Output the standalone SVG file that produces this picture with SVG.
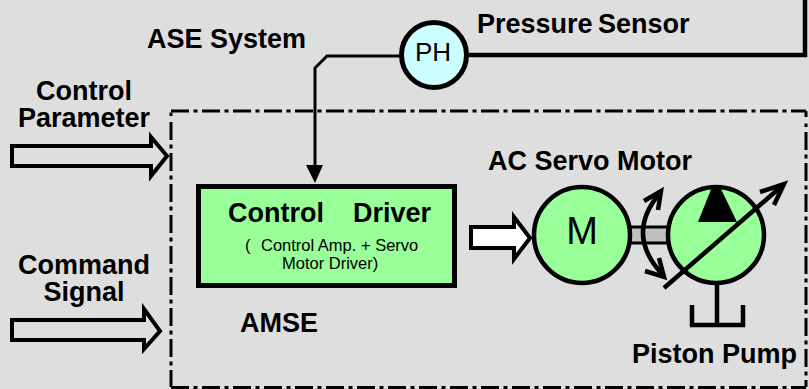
<svg xmlns="http://www.w3.org/2000/svg" width="809" height="389" viewBox="0 0 809 389">
<style>
text{font-family:"Liberation Sans",Arial,sans-serif;fill:#000}
.b{font-weight:bold;font-size:27px}
.s{font-size:16.5px}
.l{fill:none;stroke:#000;stroke-width:4.5}
.ar{fill:#dedede;stroke:#000;stroke-width:4}
.g{fill:#99ff99;stroke:#000;stroke-width:4.5}
.d{fill:none;stroke:#000;stroke-width:3;stroke-dasharray:18 4.500 4 4.500}
</style>
<rect width="809" height="389" fill="#dedede"/>
<g id="boundary">
<path d="M171 111H806" class="d"/>
<path d="M171 122V387" class="d"/>
<path d="M806 132V387" class="d"/>
<path d="M171 387.500H806" class="d"/>
<path d="M171 112.500V116M806 111V117M806 123.500V127" fill="none" stroke="#000" stroke-width="3"/>
</g>
<g id="connectors">
<path d="M469 55H805V0" class="l"/>
<path d="M402 56H327L315 68V168" fill="none" stroke="#000" stroke-width="3"/>
<path d="M306 165H323L315 183Z"/>
<path id="ctrl-arrow" d="M12 146H151V137L167 156L151 176V166H12Z" class="ar"/>
<path id="cmd-arrow" d="M12 320H144V309L160 331L144 349V340H12Z" class="ar"/>
<path id="drive-arrow" d="M471 227H514V217L530 238L514 259V248H471Z" fill="#fff" stroke="#000" stroke-width="4"/>
</g>
<g id="sensor">
<circle cx="434" cy="55" r="32.5" fill="#ccffff" stroke="#000" stroke-width="5"/>
<text x="433" y="61" font-size="26" text-anchor="middle">PH</text>
</g>
<g id="driver">
<rect x="198.500" y="186.500" width="256" height="99" fill="#99ff99" stroke="#000" stroke-width="5"/>
<text x="228" y="222" class="b">Control</text>
<text x="353" y="222" class="b">Driver</text>
<text x="245" y="251" class="s">(</text>
<text class="s"><tspan x="261" y="251">Control Amp. + Servo</tspan><tspan x="282" y="269">Motor Driver)</tspan></text>
</g>
<g id="shaft">
<rect x="628" y="227" width="42" height="16" fill="#c0c0c0" stroke="#000" stroke-width="3"/>
</g>
<g id="motor">
<circle cx="582" cy="235" r="48" class="g"/>
<text x="582" y="244" font-size="38" text-anchor="middle">M</text>
</g>
<g id="pump">
<circle cx="716" cy="235" r="48" class="g"/>
<path d="M712 187H720L737 222H698Z"/>
<path d="M664 288L782 186" class="l"/>
<path d="M760 192L784 184L774 205" class="l"/>
<path d="M717 284V325M692 305V325H743V305" class="l"/>
</g>
<g id="rotation">
<path d="M660 193Q624 235 664 276" class="l"/>
<path d="M644 201L661 191L658 210M645 271L664 277L659 258" class="l"/>
</g>
<g id="labels">
<text x="147" y="48" class="b">ASE System</text>
<text x="477" y="33" class="b">Pressure</text>
<text x="598" y="33" class="b">Sensor</text>
<text class="b" text-anchor="middle"><tspan x="84" y="100">Control</tspan><tspan x="84" y="127">Parameter</tspan></text>
<text class="b" text-anchor="middle"><tspan x="84" y="274">Command</tspan><tspan x="84" y="301">Signal</tspan></text>
<text x="488" y="170" class="b">AC Servo Motor</text>
<text x="240" y="332" class="b">AMSE</text>
<text x="632" y="363" class="b">Piston Pump</text>
</g>
</svg>
